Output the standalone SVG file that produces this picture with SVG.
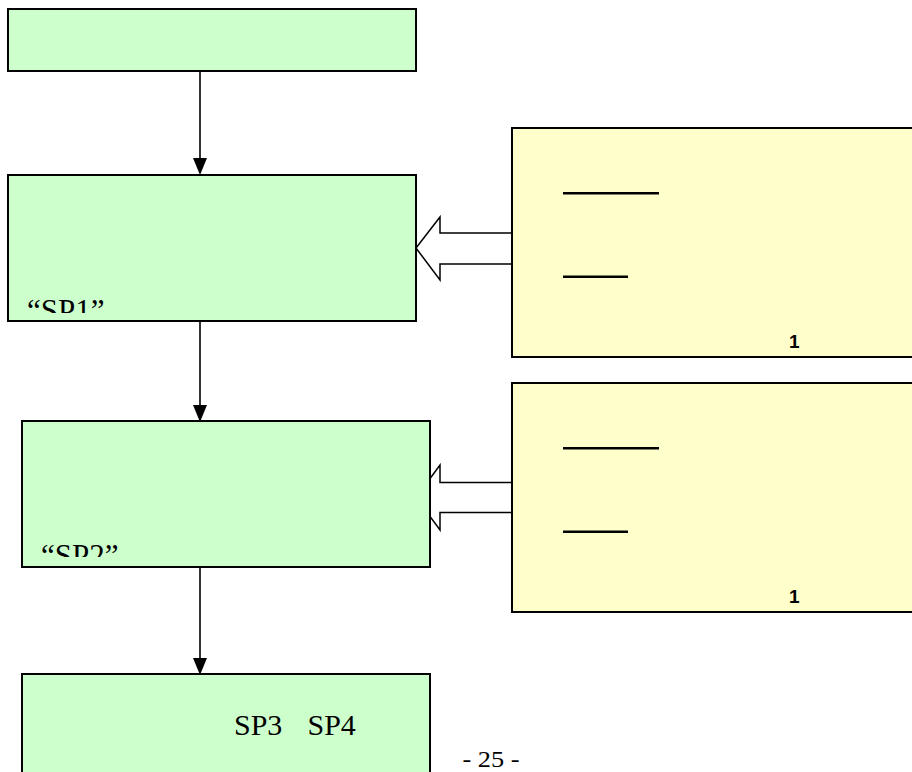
<svg xmlns="http://www.w3.org/2000/svg" width="912" height="772" viewBox="0 0 912 772">
  <style>
    .g { fill: #CCFFCC; stroke: #000; stroke-width: 2; }
    .y { fill: #FFFFCC; stroke: #000; stroke-width: 2; }
    .ln { stroke: #000; stroke-width: 1.6; fill: none; }
    .head { fill: #000; stroke: none; }
    .blk { fill: #fff; stroke: #000; stroke-width: 1.5; stroke-linejoin: miter; }
    .bar { stroke: #000; stroke-width: 2.6; }
    .tm { font-family: "Liberation Serif", "Times New Roman", serif; fill: #000; }
    .num { font-family: "Liberation Sans", Arial, sans-serif; font-weight: bold; font-size: 19px; fill: #000; }
  </style>
  <defs>
    <clipPath id="c1"><rect x="9" y="176" width="406" height="137"/></clipPath>
    <clipPath id="c2"><rect x="23" y="422" width="406" height="135"/></clipPath>
  </defs>
  <rect width="912" height="772" fill="#fff"/>

  <g id="connectors">
    <line class="ln" x1="200" y1="71" x2="200" y2="160"/>
    <polygon class="head" points="193,158 207,158 200,175"/>
    <line class="ln" x1="200" y1="321" x2="200" y2="406"/>
    <polygon class="head" points="193,405 207,405 200,422"/>
    <line class="ln" x1="200" y1="567" x2="200" y2="659"/>
    <polygon class="head" points="193,658 207,658 200,675"/>
    <polygon class="blk" points="416,248 440,217 440,233 513,233 513,264 440,264 440,280"/>
    <polygon class="blk" points="416,497.5 440,465 440,482.5 513,482.5 513,512.5 440,512.5 440,530"/>
  </g>

  <g id="node-top">
    <rect class="g" x="8" y="9" width="408" height="62"/>
  </g>

  <g id="node-sp1">
    <rect class="g" x="8" y="175" width="408" height="146"/>
    <text class="tm" x="27" y="320.5" font-size="31" clip-path="url(#c1)">“SP1”</text>
  </g>

  <g id="node-sp2">
    <rect class="g" x="22" y="421" width="408" height="146"/>
    <text class="tm" x="41" y="565.5" font-size="31" clip-path="url(#c2)">“SP2”</text>
  </g>

  <g id="node-sp34">
    <rect class="g" x="22" y="674" width="408" height="120"/>
    <text class="tm" x="234" y="735" font-size="30">SP3</text>
    <text class="tm" x="307.5" y="735" font-size="30">SP4</text>
  </g>

  <g id="note-1">
    <rect class="y" x="512" y="128" width="420" height="229"/>
    <line class="bar" x1="563" y1="193.3" x2="659" y2="193.3"/>
    <line class="bar" x1="563" y1="276.7" x2="628" y2="276.7"/>
    <text class="num" x="789" y="348.3">1</text>
  </g>

  <g id="note-2">
    <rect class="y" x="512" y="383" width="420" height="229"/>
    <line class="bar" x1="563" y1="448.3" x2="659" y2="448.3"/>
    <line class="bar" x1="563" y1="531.7" x2="628" y2="531.7"/>
    <text class="num" x="789" y="603.3">1</text>
  </g>

  <g id="page-number">
    <text class="tm" x="462.5" y="767" font-size="24" textLength="57" lengthAdjust="spacingAndGlyphs">- 25 -</text>
  </g>
</svg>
